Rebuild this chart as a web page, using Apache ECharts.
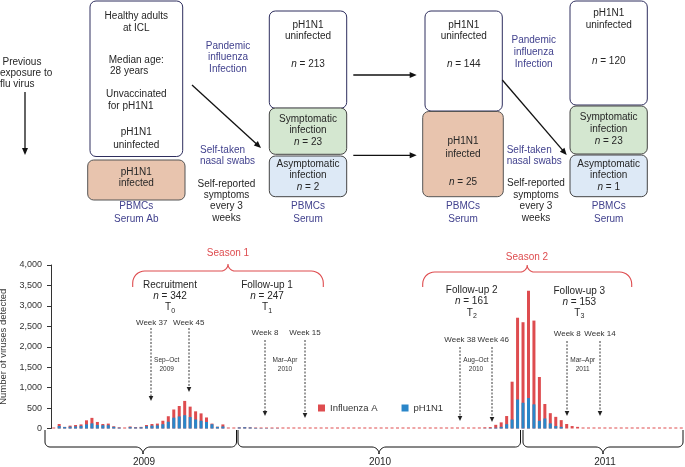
<!DOCTYPE html>
<html><head><meta charset="utf-8">
<script src="https://cdn.jsdelivr.net/npm/echarts@6/dist/echarts.min.js"></script>
<style>html,body{margin:0;padding:0;background:#fff}#c{width:685px;height:467px}</style>
</head><body><div id="c"></div>
<script>
// ---------- data ----------
const weeks2009 = ['2009-19','2009-20','2009-21','2009-22','2009-23','2009-24','2009-25','2009-26','2009-27','2009-28','2009-29','2009-30','2009-31','2009-32','2009-33','2009-34','2009-35','2009-36','2009-37','2009-38','2009-39','2009-40','2009-41','2009-42','2009-43','2009-44','2009-45','2009-46','2009-47','2009-48','2009-49','2009-50','2009-51','2009-52'];
const weeks2010 = ['2010-01','2010-02','2010-03','2010-04','2010-05','2010-06','2010-07','2010-08','2010-09','2010-10','2010-11','2010-12','2010-13','2010-14','2010-15','2010-16','2010-17','2010-18','2010-19','2010-20','2010-21','2010-22','2010-23','2010-24','2010-25','2010-26','2010-27','2010-28','2010-29','2010-30','2010-31','2010-32','2010-33','2010-34','2010-35','2010-36','2010-37','2010-38','2010-39','2010-40','2010-41','2010-42','2010-43','2010-44','2010-45','2010-46','2010-47','2010-48','2010-49','2010-50','2010-51','2010-52'];
const weeks2011 = ['2011-01','2011-02','2011-03','2011-04','2011-05','2011-06','2011-07','2011-08','2011-09','2011-10','2011-11','2011-12','2011-13','2011-14','2011-15','2011-16','2011-17','2011-18','2011-19','2011-20','2011-21','2011-22','2011-23','2011-24','2011-25','2011-26','2011-27','2011-28','2011-29','2011-30'];

const influenzaA2009 = [0,110,40,70,85,100,200,260,160,110,120,55,30,0,50,35,40,85,110,120,190,300,465,550,675,535,420,370,270,120,45,100,0,0];
const pH1N12009      = [0,60,35,45,50,65,100,125,85,80,80,40,20,0,35,25,30,55,70,75,105,165,265,295,325,280,220,190,160,105,40,50,0,0];
const influenzaA2010 = [30,35,30,20,10,10,10,5,0,0,0,0,0,0,0,0,0,0,0,0,0,0,0,0,0,0,0,0,0,0,0,0,0,0,0,0,0,0,0,0,0,0,0,0,25,30,35,90,150,305,1145,2710];
const pH1N12010      = [25,30,25,15,8,8,5,5,0,0,0,0,0,0,0,0,0,0,0,0,0,0,0,0,0,0,0,0,0,0,0,0,0,0,0,0,0,0,0,0,0,0,0,0,0,5,10,20,40,105,220,710];
const influenzaA2011 = [2600,3370,2640,1260,600,375,285,205,110,60,40,20,0,0,0,0,0,0,0,0,0,0,0,0,0,0,0,0,0,0];
const pH1N12011      = [630,745,590,190,245,125,60,40,0,0,0,0,0,0,0,0,0,0,0,0,0,0,0,0,0,0,0,0,0,0];

const yTicks = [0,500,1000,1500,2000,2500,3000,3500,4000];
const seriesNames = ['Influenza A','pH1N1'];

const weeks = weeks2009.concat(weeks2010, weeks2011);
const influenzaA = influenzaA2009.concat(influenzaA2010, influenzaA2011);
const pH1N1 = pH1N12009.concat(pH1N12010, pH1N12011);

// ---------- styles ----------
const FONT = '"Liberation Sans", Arial, Helvetica, sans-serif';
const INK = '#262626';
const NAVY = '#42428e';
const BORDER = '#2e2e5e';
const RED = '#de4c4f';
const BLUE = '#2a86c9';

const G = [];
function txt(x, y, s, o) {
  o = o || {};
  const fs = o.fs || 10, c = o.c || INK;
  G.push({type:'text', x:x, y:y, z:20, silent:true, style:{
    text:s, fill:c, fontSize:fs, fontFamily:FONT, fontStyle:o.st||'normal',
    textAlign:o.a||'center', textVerticalAlign:'middle', align:o.a||'center', verticalAlign:'middle',
    rich:{ i:{fontStyle:'italic', fontSize:fs, fontFamily:FONT, fill:c} }
  }});
}
function box(x, y, w, h, fill, stroke) {
  G.push({type:'rect', z:5, silent:true, shape:{x:x, y:y, width:w, height:h, r:6},
    style:{fill:fill, stroke:stroke, lineWidth:1}});
}
function arrow(x1, y1, x2, y2, o) {
  o = o || {};
  const L = o.hl || 7, W = o.hw || 3, c = o.c || '#111';
  const a = Math.atan2(y2 - y1, x2 - x1), ca = Math.cos(a), sa = Math.sin(a);
  const bx = x2 - L * ca, by = y2 - L * sa;
  G.push({type:'line', z:6, silent:true, shape:{x1:x1, y1:y1, x2:bx + 1 * ca, y2:by + 1 * sa},
    style:{stroke:c, lineWidth:o.lw || 1.3, lineDash:o.dash || null}});
  G.push({type:'polygon', z:6, silent:true, shape:{points:[[x2, y2],[bx - W * sa, by + W * ca],[bx + W * sa, by - W * ca]]},
    style:{fill:c}});
}
function brace(x0, x1, xm, yEnd, yLine, r, t, color, lw) {
  const s = Math.sign(yLine - yEnd);
  const pts = [[x0, yEnd]];
  const arc = (cx, cy, a0, a1, rad) => { for (let k = 0; k <= 8; k++) { const an = a0 + (a1 - a0) * k / 8; pts.push([cx + rad * Math.cos(an), cy + rad * Math.sin(an)]); } };
  arc(x0 + r, yLine - s * r, Math.PI, s > 0 ? Math.PI / 2 : 3 * Math.PI / 2, r);
  arc(xm - t, yLine + s * t, s > 0 ? -Math.PI / 2 : Math.PI / 2, 0, t);
  arc(xm + t, yLine + s * t, Math.PI, s > 0 ? 3 * Math.PI / 2 : Math.PI / 2, t);
  arc(x1 - r, yLine - s * r, s > 0 ? Math.PI / 2 : 3 * Math.PI / 2, s > 0 ? 0 : 2 * Math.PI, r);
  pts.push([x1, yEnd]);
  G.push({type:'polyline', z:6, silent:true, shape:{points:pts}, style:{stroke:color, lineWidth:lw || 1, fill:null}});
}
function tsub(x, y, sub) {
  txt(x - 5, y, 'T', {a:'left'});
  txt(x + 1.3, y + 3, sub, {a:'left', fs:7});
}

// ---------- flow diagram (top) ----------
txt(2.5, 62, 'Previous', {a:'left'});
txt(0, 73, 'exposure to', {a:'left'});
txt(0, 84, 'flu virus', {a:'left'});
arrow(25, 92, 25, 155, {lw:1.3});

box(90, 1, 92.7, 155.5, '#fff', BORDER);
box(87.7, 160, 97.3, 40, '#e8c4ae', '#555');
txt(136.3, 16.7, 'Healthy adults');
txt(136.3, 28.3, 'at ICL');
txt(136.3, 60.7, 'Median age:');
txt(110, 71, '28 years', {a:'left'});
txt(136.3, 94.3, 'Unvaccinated');
txt(108, 106.7, 'for pH1N1', {a:'left'});
txt(136.3, 132.7, 'pH1N1');
txt(136.3, 145, 'uninfected');
txt(136.3, 172.7, 'pH1N1');
txt(136.3, 183.5, 'infected');
txt(136.3, 206.7, 'PBMCs', {c:NAVY});
txt(136.3, 219, 'Serum Ab', {c:NAVY});

txt(228, 46, 'Pandemic', {c:NAVY});
txt(228, 57.7, 'influenza', {c:NAVY});
txt(228, 69.3, 'Infection', {c:NAVY});
arrow(192, 85, 261, 148);
txt(200, 150, 'Self-taken', {a:'left', c:NAVY});
txt(200, 161.3, 'nasal swabs', {a:'left', c:NAVY});
txt(226.5, 184, 'Self-reported');
txt(226.5, 195.3, 'symptoms');
txt(226.5, 206.7, 'every 3');
txt(226.5, 218.3, 'weeks');

box(269.3, 11, 77.4, 97.3, '#fff', BORDER);
box(269.3, 108, 77.4, 46.3, '#d4e7d0', '#444');
box(269.3, 156, 77.4, 40.7, '#dde9f6', '#444');
txt(308, 25, 'pH1N1');
txt(308, 36, 'uninfected');
txt(308, 64.3, '{i|n} = 213');
txt(308, 119, 'Symptomatic');
txt(308, 130.7, 'infection');
txt(308, 142.7, '{i|n} = 23');
txt(308, 164.7, 'Asymptomatic');
txt(308, 175.7, 'infection');
txt(308, 187.7, '{i|n} = 2');
txt(308, 206.7, 'PBMCs', {c:NAVY});
txt(308, 219, 'Serum', {c:NAVY});

arrow(353.3, 75, 416.7, 75);
arrow(353.3, 155.3, 416.7, 155.3);

box(425, 11, 77.3, 100, '#fff', BORDER);
box(422.7, 111.5, 80.6, 85.2, '#e8c4ae', '#555');
txt(463.7, 25, 'pH1N1');
txt(463.7, 36, 'uninfected');
txt(463.7, 64, '{i|n} = 144');
txt(463, 141.7, 'pH1N1');
txt(463, 154, 'infected');
txt(463, 182.3, '{i|n} = 25');
txt(463, 206.7, 'PBMCs', {c:NAVY});
txt(463, 219, 'Serum', {c:NAVY});

txt(533.7, 40.7, 'Pandemic', {c:NAVY});
txt(533.7, 52.3, 'influenza', {c:NAVY});
txt(533.7, 64, 'Infection', {c:NAVY});
arrow(502.3, 80, 566.7, 155);
txt(506.7, 150, 'Self-taken', {a:'left', c:NAVY});
txt(506.7, 161.3, 'nasal swabs', {a:'left', c:NAVY});
txt(536, 183.3, 'Self-reported');
txt(536, 195, 'symptoms');
txt(536, 206.7, 'every 3');
txt(536, 218.3, 'weeks');

box(570, 1, 77.3, 104, '#fff', BORDER);
box(570, 106, 77.3, 48, '#d4e7d0', '#444');
box(570, 155, 77.3, 41.7, '#dde9f6', '#444');
txt(608.7, 13.3, 'pH1N1');
txt(608.7, 25, 'uninfected');
txt(608.7, 61, '{i|n} = 120');
txt(608.7, 117.7, 'Symptomatic');
txt(608.7, 129.3, 'infection');
txt(608.7, 141.3, '{i|n} = 23');
txt(608.7, 164.3, 'Asymptomatic');
txt(608.7, 175.7, 'infection');
txt(608.7, 187.7, '{i|n} = 1');
txt(608.7, 206.7, 'PBMCs', {c:NAVY});
txt(608.7, 219, 'Serum', {c:NAVY});

// ---------- chart annotations ----------
brace(132.7, 323.3, 228, 287, 271, 12, 7, RED, 1.1);
brace(422.7, 631.7, 527.2, 287, 272, 12, 7, RED, 1.1);
txt(228, 253, 'Season 1', {c:RED});
txt(527, 257, 'Season 2', {c:RED});

txt(170, 285.7, 'Recruitment');
txt(170, 296.7, '{i|n} = 342');
tsub(170, 307.7, '0');
txt(267, 285.7, 'Follow-up 1');
txt(267, 296.7, '{i|n} = 247');
tsub(267, 307.7, '1');
txt(471.7, 290.7, 'Follow-up 2');
txt(471.7, 301.7, '{i|n} = 161');
tsub(471.7, 313, '2');
txt(579.3, 291.3, 'Follow-up 3');
txt(579.3, 302.3, '{i|n} = 153');
tsub(579.3, 313, '3');

const WK = {fs:8, c:'#333'};
const DT = {fs:6.5, c:'#333'};
const DA = {lw:0.9, dash:[2, 1.5], hl:5, hw:2.3, c:'#222'};
txt(151.7, 322.3, 'Week 37', WK); arrow(151, 328, 151, 401, DA);
txt(188.7, 322.3, 'Week 45', WK); arrow(189, 328, 189, 392, DA);
txt(166.7, 360, 'Sep–Oct', DT); txt(166.7, 369.3, '2009', DT);
txt(265, 332.7, 'Week 8', WK); arrow(265, 340, 265, 416, DA);
txt(305, 332.7, 'Week 15', WK); arrow(305, 340, 305, 418, DA);
txt(285, 360, 'Mar–Apr', DT); txt(285, 369.3, '2010', DT);
txt(460, 340, 'Week 38', WK); arrow(460, 347, 460, 421, DA);
txt(493.3, 340, 'Week 46', WK); arrow(492, 347, 492, 422, DA);
txt(476, 360, 'Aug–Oct', DT); txt(476, 369.3, '2010', DT);
txt(567.3, 334, 'Week 8', WK); arrow(567, 341, 567, 416, DA);
txt(600, 334, 'Week 14', WK); arrow(600, 341, 600, 416, DA);
txt(582.7, 360, 'Mar–Apr', DT); txt(582.7, 369.3, '2011', DT);

brace(45, 236.5, 143, 430, 447, 5, 7, '#111', 1);
brace(238, 520.5, 379, 430, 447, 5, 7, '#111', 1);
brace(523, 683, 603, 430, 447, 5, 7, '#111', 1);
txt(144, 462, '2009');
txt(380, 462, '2010');
txt(605, 462, '2011');

// ---------- chart ----------
const chart = echarts.init(document.getElementById('c'), null, {renderer:'canvas'});
chart.setOption({
  animation:false,
  backgroundColor:'#fff',
  textStyle:{fontFamily:FONT},
  grid:{left:51, right:1, top:265, bottom:38.5, containLabel:false, outerBoundsMode:'none'},
  legend:{data:seriesNames, left:318, top:403, icon:'rect', itemWidth:7, itemHeight:7, itemGap:24, padding:0,
    selectedMode:false, textStyle:{fontSize:9.5, color:'#333', fontFamily:FONT}},
  xAxis:{type:'category', data:weeks, boundaryGap:true, axisLine:{show:false}, axisTick:{show:false},
    axisLabel:{show:false}, splitLine:{show:false}},
  yAxis:{type:'value', min:yTicks[0], max:yTicks[yTicks.length-1], interval:yTicks[1]-yTicks[0],
    axisLine:{show:true, lineStyle:{color:'#333', width:1}},
    axisTick:{show:true, length:4, lineStyle:{color:'#333'}},
    axisLabel:{fontSize:9, color:'#333', margin:9, fontFamily:FONT,
      formatter:v => v.toLocaleString('en-US')},
    splitLine:{show:false},
    name:'Number of viruses detected', nameLocation:'middle', nameGap:34,
    nameTextStyle:{fontSize:9.5, color:'#333', fontFamily:FONT}},
  series:[
    {name:seriesNames[0], type:'bar', data:influenzaA, barWidth:3, barGap:'-100%', barMinHeight:1,
      itemStyle:{color:RED}, z:2},
    {name:seriesNames[1], type:'bar', data:pH1N1, barWidth:3, barGap:'-100%',
      itemStyle:{color:BLUE}, z:3}
  ],
  graphic:{elements:G}
});
</script>
</body></html>
